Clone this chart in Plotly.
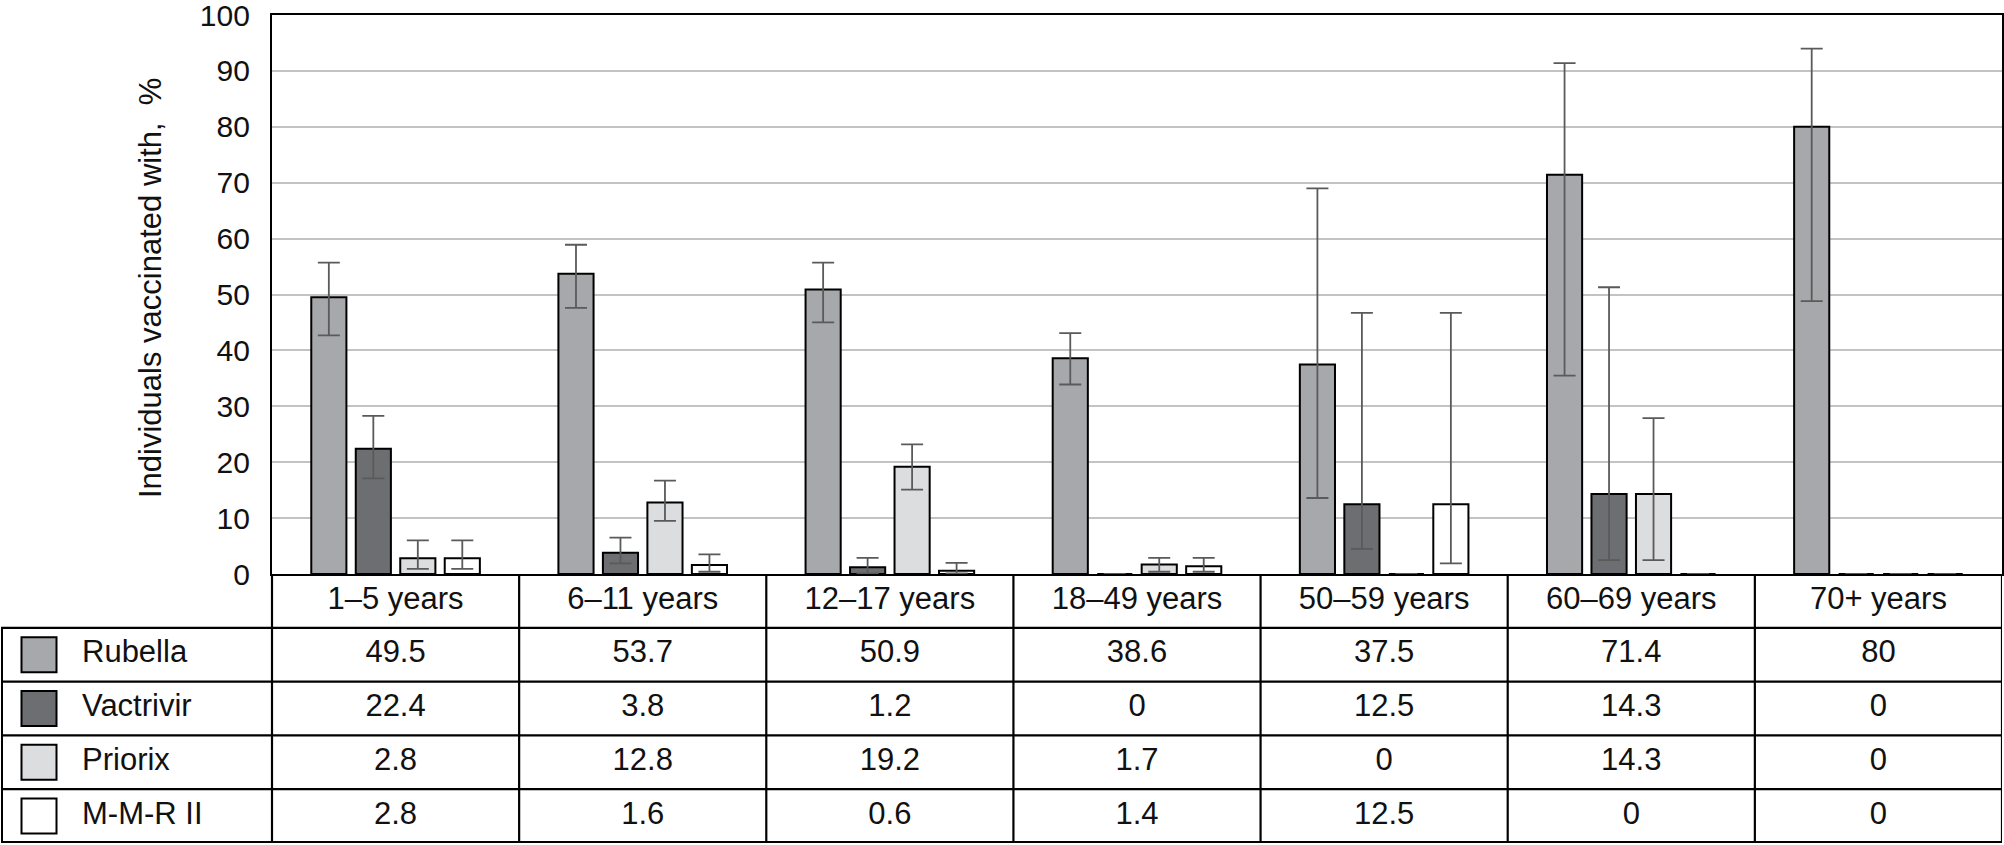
import plotly.graph_objects as go

# ---------------- data ----------------
ages = ["1–5 years", "6–11 years", "12–17 years", "18–49 years",
        "50–59 years", "60–69 years", "70+ years"]
series_names = ["Rubella", "Vactrivir", "Priorix", "M-M-R II"]

rubella = [49.5, 53.7, 50.9, 38.6, 37.5, 71.4, 80]
vactrivir = [22.4, 3.8, 1.2, 0, 12.5, 14.3, 0]
priorix = [2.8, 12.8, 19.2, 1.7, 0, 14.3, 0]
mmr = [2.8, 1.6, 0.6, 1.4, 12.5, 0, 0]

rubella_lo = [42.7, 47.6, 45.0, 33.9, 13.6, 35.5, 48.8]
rubella_hi = [55.7, 58.9, 55.7, 43.1, 69.0, 91.4, 94.0]
vactrivir_lo = [17.1, 1.9, 0.1, None, 4.5, 2.5, None]
vactrivir_hi = [28.3, 6.5, 2.9, None, 46.7, 51.3, None]
priorix_lo = [0.9, 9.5, 15.1, 0.4, None, 2.5, None]
priorix_hi = [6.0, 16.7, 23.2, 2.9, None, 27.9, None]
mmr_lo = [0.9, 0.4, 0.1, 0.4, 1.9, None, None]
mmr_hi = [6.0, 3.5, 2.0, 2.9, 46.7, None, None]

y_ticks = [0, 10, 20, 30, 40, 50, 60, 70, 80, 90, 100]
y_title = "Individuals vaccinated with,\u00a0\u00a0%"

# ---------------- styles / layout constants ----------------
colors = ["#a7a8ab", "#6d6e71", "#dcdddf", "#ffffff"]
FONT = "Liberation Sans, Arial, Helvetica, sans-serif"
FS = 31
W, H = 2004, 845
ML, MR, MT, MB = 1, 2, 15, 2
PW = W - ML - MR
PH = H - MT - MB
PLOT_LEFT_PX = 272          # left edge of bar plot area (page px)
ZERO_PX = 574               # y of zero line (page px)
n_cat = len(ages)
cat_w = (W - MR - PLOT_LEFT_PX) / n_cat
left_units = (PLOT_LEFT_PX - ML) / cat_w
x2_min = -0.5 - left_units
x2_max = n_cat - 0.5
split = (H - MB - ZERO_PX) / PH
n_rows = len(series_names) + 1


def px_to_x2(px):
    return x2_min + (px - ML) / cat_w


values = [rubella, vactrivir, priorix, mmr]
lows = [rubella_lo, vactrivir_lo, priorix_lo, mmr_lo]
highs = [rubella_hi, vactrivir_hi, priorix_hi, mmr_hi]

fig = go.Figure()

# ---------------- bars ----------------
for name, vals, lo, hi, col in zip(series_names, values, lows, highs, colors):
    plus = [None if h is None else h - v for v, h in zip(vals, hi)]
    minus = [None if l is None else v - l for v, l in zip(vals, lo)]
    fig.add_trace(go.Bar(
        x=ages, y=vals, name=name,
        marker=dict(color=col, line=dict(color="#000000", width=2)),
        error_y=dict(type="data", symmetric=False, array=plus, arrayminus=minus,
                     color="#5a5a5a", thickness=1.8, width=11),
        xaxis="x", yaxis="y", showlegend=False, hoverinfo="skip",
    ))

# ---------------- table (second axes) ----------------
col_x = list(range(n_cat))
fig.add_trace(go.Scatter(
    x=col_x, y=[n_rows - 0.5] * n_cat, text=ages, mode="text",
    textfont=dict(family=FONT, size=FS, color="#111111"),
    xaxis="x2", yaxis="y2", showlegend=False, hoverinfo="skip"))

shapes = []
for i, (name, vals, col) in enumerate(zip(series_names, values, colors)):
    yc = n_rows - 1.5 - i
    txt = [f"{v:g}" for v in vals]
    fig.add_trace(go.Scatter(
        x=col_x, y=[yc] * n_cat, text=txt, mode="text",
        textfont=dict(family=FONT, size=FS, color="#111111"),
        xaxis="x2", yaxis="y2", showlegend=False, hoverinfo="skip"))
    fig.add_trace(go.Scatter(
        x=[px_to_x2(39)], y=[yc], mode="markers",
        marker=dict(symbol="square", size=35, color=col,
                    line=dict(color="#000000", width=2)),
        xaxis="x2", yaxis="y2", showlegend=False, hoverinfo="skip"))
    fig.add_trace(go.Scatter(
        x=[px_to_x2(82)], y=[yc], text=[name], mode="text",
        textposition="middle right",
        textfont=dict(family=FONT, size=FS, color="#111111"),
        xaxis="x2", yaxis="y2", showlegend=False, hoverinfo="skip"))

line_style = dict(color="#000000", width=2.2)
for r in range(n_rows):
    shapes.append(dict(type="line", xref="x2", yref="y2",
                       x0=x2_min, x1=x2_max, y0=r, y1=r, line=line_style))
shapes.append(dict(type="line", xref="x2", yref="y2",
                   x0=-0.5, x1=x2_max, y0=n_rows, y1=n_rows, line=line_style))
for k in range(n_cat + 1):
    xv = -0.5 + k
    shapes.append(dict(type="line", xref="x2", yref="y2",
                       x0=xv, x1=xv, y0=0, y1=n_rows, line=line_style))
shapes.append(dict(type="line", xref="x2", yref="y2",
                   x0=x2_min, x1=x2_min, y0=0, y1=n_rows - 1,
                   line=dict(color="#000000", width=4)))
shapes.append(dict(type="line", xref="x2", yref="y2",
                   x0=x2_min, x1=x2_max, y0=0, y1=0,
                   line=dict(color="#000000", width=4)))

fig.update_layout(
    width=W, height=H,
    margin=dict(l=ML, r=MR, t=MT, b=MB, autoexpand=False),
    paper_bgcolor="#ffffff", plot_bgcolor="#ffffff",
    font=dict(family=FONT, size=FS, color="#111111"),
    barmode="group", bargap=0.28, bargroupgap=0.21,
    xaxis=dict(domain=[(PLOT_LEFT_PX - ML) / PW, 1], anchor="y",
               type="category", range=[-0.5, n_cat - 0.5],
               showticklabels=False, showgrid=False, zeroline=False,
               showline=True, mirror=True, linecolor="#000000", linewidth=2.2,
               ticks="", automargin=False),
    yaxis=dict(domain=[split, 1], anchor="x", range=[0, 100],
               tickvals=y_ticks, ticktext=[str(t) for t in y_ticks],
               showgrid=True, gridcolor="#c3c3c3", gridwidth=2,
               zeroline=False, showline=True, mirror=True,
               linecolor="#000000", linewidth=2.2, ticks="",
               ticklabelstandoff=14, ticklabeloverflow="allow",
               automargin=False,
               tickfont=dict(family=FONT, size=30, color="#111111")),
    xaxis2=dict(domain=[0, 1], anchor="y2", range=[x2_min, x2_max],
                visible=False, fixedrange=True),
    yaxis2=dict(domain=[0, split], anchor="x2", range=[0, n_rows],
                visible=False, fixedrange=True),
    shapes=shapes,
    annotations=[dict(
        text=y_title, xref="paper", yref="paper",
        x=(150 - ML) / PW, y=(H - MB - 288) / PH,
        xanchor="center", yanchor="middle", textangle=-90, showarrow=False,
        font=dict(family=FONT, size=FS, color="#111111"))],
)

fig.write_html(
    "out.html",
    config={"displayModeBar": False},
    post_script="document.body.style.margin='0';document.body.style.overflow='hidden';",
)
